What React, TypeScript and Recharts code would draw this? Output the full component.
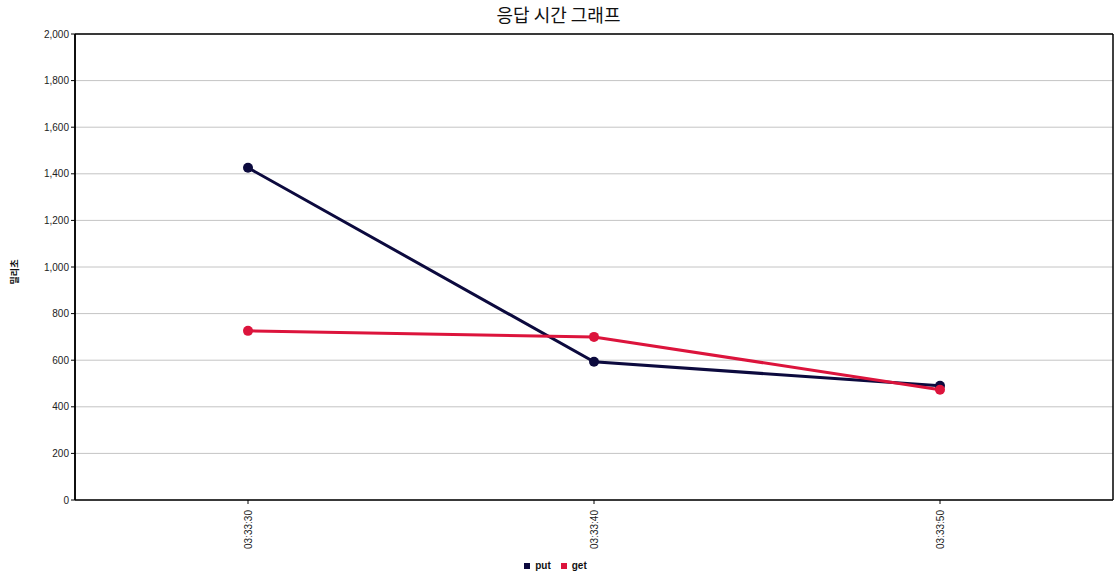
import React from 'react';
import {CartesianGrid, Legend, Line, LineChart, XAxis, YAxis} from 'recharts';

const times = ['03:33:30', '03:33:40', '03:33:50'];
const putValues = [1426, 593, 490];
const getValues = [726, 700, 473];
const yTicks = [0, 200, 400, 600, 800, 1000, 1200, 1400, 1600, 1800, 2000];

const PUT_COLOR = '#0c0a3e';
const GET_COLOR = '#dc143c';
const tickFont = {fontFamily: '"Liberation Sans", Arial, sans-serif', fontSize: 10, fill: '#222'};

const data = times.map((t, i) => ({time: t, put: putValues[i], get: getValues[i]}));

const XTick = (props: any) => {
	const {x, y, payload} = props;
	return <text x={x} y={y + 4} transform={`rotate(-90 ${x} ${y + 4})`} textAnchor="end" dy={3.5} {...tickFont}>
		{payload.value}
	</text>;
};

const renderLegend = () => <div style={{display: 'flex', justifyContent: 'center', gap: 10, fontFamily: '"Liberation Sans", Arial, sans-serif', fontSize: 10, fontWeight: 700, color: '#111', paddingTop: 3, paddingRight: 2}}>
	{[['put', PUT_COLOR], ['get', GET_COLOR]].map(([name, color]) =>
		<span key={name} style={{display: 'flex', alignItems: 'center'}}>
			<span style={{width: 6, height: 6, background: color, display: 'inline-block', marginRight: 5}}/>
			{name}
		</span>)}
</div>;

// plot frame: top edge + left/right edges
const frameTop = ({offset}: any) => [offset.top];
const frameSides = ({offset}: any) => [offset.left, offset.left + offset.width];

export default function App() {
	return <div style={{position: 'absolute', left: 0, top: 0, width: 1117, height: 577, background: '#fff'}}>
		<div style={{position: 'absolute', left: 0, top: 1, width: 1117, textAlign: 'center', fontFamily: '"Noto Sans CJK KR", sans-serif', fontSize: 18, color: '#111'}}>
			응답 시간 그래프
		</div>
		<div style={{position: 'absolute', left: 6, top: 272, transform: 'translate(-50%, -50%) rotate(-90deg)', transformOrigin: 'center', marginLeft: 8, fontFamily: '"Noto Sans CJK KR", sans-serif', fontSize: 9, fontWeight: 700, color: '#111', whiteSpace: 'nowrap'}}>
			밀리초
		</div>
		<LineChart width={1117} height={577} data={data} margin={{top: 34, right: 4, left: 0, bottom: 0}}>
			<CartesianGrid vertical={false} stroke="#c4c4c4" strokeWidth={1}/>
			<CartesianGrid horizontalCoordinatesGenerator={frameTop} verticalCoordinatesGenerator={frameSides} stroke="#000" strokeWidth={1.5}/>
			<XAxis dataKey="time" scale="band" interval={0} height={57} tick={<XTick/>} tickLine={{stroke: '#000'}} tickSize={4} axisLine={{stroke: '#000', strokeWidth: 1.5}}/>
			<YAxis domain={[0, 2000]} ticks={yTicks} width={75} tickSize={4} tickLine={{stroke: '#000'}} axisLine={{stroke: '#000', strokeWidth: 1.5}} tick={tickFont} tickFormatter={(v: number) => v.toLocaleString('en-US')} interval={0}/>
			<Legend verticalAlign="bottom" height={20} content={renderLegend}/>
			<Line dataKey="put" stroke={PUT_COLOR} strokeWidth={3} dot={{r: 5, fill: PUT_COLOR, stroke: PUT_COLOR, strokeWidth: 0}} activeDot={false} isAnimationActive={false}/>
			<Line dataKey="get" stroke={GET_COLOR} strokeWidth={3} dot={{r: 5, fill: GET_COLOR, stroke: GET_COLOR, strokeWidth: 0}} activeDot={false} isAnimationActive={false}/>
		</LineChart>
	</div>;
}
